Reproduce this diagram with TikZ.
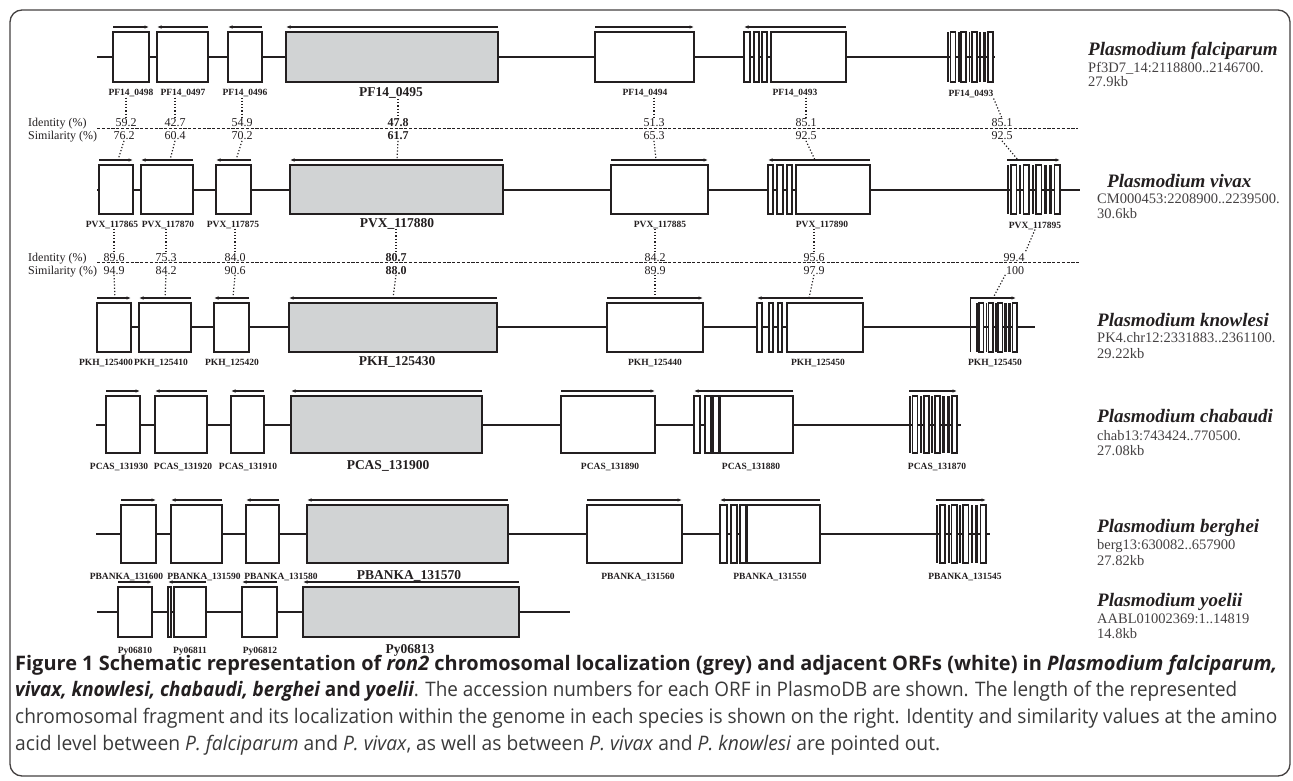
\documentclass[tikz,border=0pt]{standalone}
\usepackage{fontspec}
\usepackage{graphicx}
\setmainfont{Liberation Serif}
\newfontfamily\capfont{Open Sans}
\usetikzlibrary{arrows.meta,calc}
\definecolor{ink}{HTML}{231F20}
\definecolor{ronfill}{HTML}{D1D3D4}
\definecolor{capink}{HTML}{3A3A3A}
\tikzset{
  frame/.style={draw=ink!85, line width=1.3pt, rounded corners=12pt},
  chrom/.style={draw=ink, line width=2pt},
  orfbox/.style={draw=ink, line width=2.3pt, fill=white, inner sep=0pt, outer sep=0pt},
  ronbox/.style={orfbox, fill=ronfill},
  ghost/.style={inner sep=0pt, outer sep=0pt},
  exo/.style={draw=ink, line width=1.6pt, fill=white},
  exf/.style={fill=ink},
  dirarrow/.style={draw=ink, line width=1.1pt, -{Latex[length=4.5pt,width=3.5pt]}},
  lbl/.style={font=\bfseries\fontsize{9.5}{10}\selectfont, inner sep=0pt, text=ink, anchor=base},
  biglbl/.style={font=\bfseries\fontsize{13.5}{14}\selectfont, inner sep=0pt, text=ink, anchor=base},
  val/.style={font=\fontsize{12}{12}\selectfont, inner sep=0.5pt, text=ink, anchor=base},
  bval/.style={val, font=\bfseries\fontsize{12}{12}\selectfont},
  rowhead/.style={font=\fontsize{12}{12}\selectfont, inner sep=0pt, text=ink, anchor=base west},
  link/.style={draw=ink, line width=1.2pt, dotted},
  sepline/.style={draw=ink, line width=1.1pt, dash pattern=on 3.2pt off 1.6pt},
  species/.style={font=\bfseries\itshape\fontsize{19}{20}\selectfont, inner sep=0pt, text=ink, anchor=base west},
  locus/.style={font=\fontsize{14.5}{15}\selectfont, inner sep=0pt, text=ink!85, anchor=base west},
  capline/.style={font=\capfont\fontsize{20}{22}\selectfont, inner sep=0pt, text=capink, anchor=base west},
}
% #1 style, #2 name, #3 x1, #4 x2, #5 top, #6 bottom
\newcommand\orf[6][orfbox]{\node[#1, minimum width={(#4-#3)*1pt}, minimum height={(#6-#5)*1pt}] (#2) at ({(#3+#4)/2},{(#5+#6)/2}) {};}
\newcommand\ex[4]{\path[exo] (#1,#3) rectangle (#2,#4);}
\newcommand\multiex[4]{\foreach \pa/\pb/\ps in {0/1.8/exf,3.5/8.5/exo,11/12.8/exf,14.5/19.5/exo,22/23.8/exf,25.5/30.5/exo,32.5/35.2/exf,37/39.8/exf,42/47/exo}{\pgfmathsetmacro\xa{#1+\pa*#2/47}\pgfmathsetmacro\xb{#1+\pb*#2/47}\path[\ps] (\xa,#3) rectangle (\xb,#4);}}
\newcommand\rdir[1]{\draw[dirarrow] ([yshift=5pt]#1.north west) -- ([yshift=5pt]#1.north east);}
\newcommand\ldir[1]{\draw[dirarrow] ([yshift=5pt]#1.north east) -- ([yshift=5pt]#1.north west);}
\begin{document}
\begin{tikzpicture}[x=1pt,y=-1pt]
\useasboundingbox (0,0) rectangle (1293,781);
\fill[white] (0,0) rectangle (1293,781);
\draw[frame] (10,10) rectangle (1290,776);

% ---------------- Row 1: falciparum
\coordinate (f0) at (97,57); \coordinate (fE) at (995,57);
\draw[chrom] (f0) -- (fE);
\orf{f1}{113}{149}{32}{82}
\orf{f2}{157}{208}{32}{82}
\orf{f3}{228}{262}{32}{82}
\orf[ronbox]{f4}{286}{498}{32}{82}
\orf{f5}{595}{694}{32}{82}
\ex{744}{750}{32}{82}\ex{754}{759}{32}{82}\ex{762}{767}{32}{82}
\orf{f6b}{771}{846}{32}{82}
\orf[ghost]{f6}{744}{846}{32}{82}
\orf[ghost]{f7}{947}{993}{32}{82}
\multiex{947}{46}{32}{82}
\rdir{f1}\ldir{f2}\ldir{f3}\ldir{f4}\rdir{f5}\ldir{f6}
\node[lbl] (f1lab) at (131,96) {PF14\_0498};
\node[lbl] (f2lab) at (183,96) {PF14\_0497};
\node[lbl] (f3lab) at (245,96) {PF14\_0496};
\node[biglbl] (f4lab) at (391,97) {PF14\_0495};
\node[lbl] (f5lab) at (645,96) {PF14\_0494};
\node[lbl] (f6lab) at (795,96) {PF14\_0493};
\node[lbl] (f7lab) at (971,97) {PF14\_0493};

% identity / similarity falciparum-vivax
\node[rowhead] (id1) at (28,127) {Identity (\%)};
\node[rowhead] (si1) at (28,140) {Similarity (\%)};
\coordinate (d1a) at (97,128.5); \coordinate (d1b) at (1078,128.5);
\draw[sepline] (d1a) -- (d1b);
\node[val] (f1i) at (126,127) {59.2}; \node[val] (f1s) at (124,140) {76.2};
\node[val] (f2i) at (175,127) {42.7}; \node[val] (f2s) at (175,140) {60.4};
\node[val] (f3i) at (242,127) {54.9}; \node[val] (f3s) at (242,140) {70.2};
\node[bval] (f4i) at (398,127) {47.8}; \node[bval] (f4s) at (398,140) {61.7};
\node[val] (f5i) at (654,127) {51.3}; \node[val] (f5s) at (654,140) {65.3};
\node[val] (f6i) at (806,127) {85.1}; \node[val] (f6s) at (806,140) {92.5};
\node[val] (f7i) at (1002,127) {85.1}; \node[val] (f7s) at (1002,140) {92.5};

% ---------------- Row 2: vivax
\coordinate (v0) at (97,190); \coordinate (vE) at (1080,190);
\draw[chrom] (v0) -- (vE);
\orf{v1}{99}{133}{165}{214}
\orf{v2}{141}{193}{165}{214}
\orf{v3}{216}{251}{165}{214}
\orf[ronbox]{v4}{290}{503}{165}{214}
\orf{v5}{611}{708}{165}{214}
\ex{768}{773}{165}{214}\ex{777}{783}{165}{214}\ex{787}{792}{165}{214}
\orf{v6b}{796}{870}{165}{214}
\orf[ghost]{v6}{768}{870}{165}{214}
\orf[ghost]{v7}{1007}{1060}{165}{214}
\multiex{1007}{53}{165}{214}
\rdir{v1}\ldir{v2}\ldir{v3}\ldir{v4}\rdir{v5}\ldir{v6}\rdir{v7}
\coordinate (v1t) at (118,160); \coordinate (v2t) at (170,160);
\coordinate (v3t) at (236,160); \coordinate (v4t) at (397,160);
\coordinate (v5t) at (656,160); \coordinate (v6t) at (815,160);
\coordinate (v7t) at (1018,160);
\node[lbl] (v1lab) at (112,227) {PVX\_117865};
\node[lbl] (v2lab) at (168,227) {PVX\_117870};
\node[lbl] (v3lab) at (233,227) {PVX\_117875};
\node[biglbl] (v4lab) at (397,227) {PVX\_117880};
\node[lbl] (v5lab) at (660,227) {PVX\_117885};
\node[lbl] (v6lab) at (822,227) {PVX\_117890};
\node[lbl] (v7lab) at (1035,228) {PVX\_117895};

% identity / similarity vivax-knowlesi
\node[rowhead] (id2) at (28,261) {Identity (\%)};
\node[rowhead] (si2) at (28,274) {Similarity (\%)};
\coordinate (d2a) at (97,262.5); \coordinate (d2b) at (1080,262.5);
\draw[sepline] (d2a) -- (d2b);
\node[val] (v1i) at (114,261) {89.6}; \node[val] (v1s) at (114,274) {94.9};
\node[val] (v2i) at (166,261) {75.3}; \node[val] (v2s) at (166,274) {84.2};
\node[val] (v3i) at (235,261) {84.0}; \node[val] (v3s) at (235,274) {90.6};
\node[bval] (v4i) at (396,261) {80.7}; \node[bval] (v4s) at (396,274) {88.0};
\node[val] (v5i) at (655,261) {84.2}; \node[val] (v5s) at (655,274) {89.9};
\node[val] (v6i) at (814,261) {95.6}; \node[val] (v6s) at (814,274) {97.9};
\node[val] (v7i) at (1014,261) {99.4}; \node[val] (v7s) at (1015,274) {100};

% ---------------- Row 3: knowlesi
\coordinate (k0) at (97,327); \coordinate (kE) at (1035,327);
\draw[chrom] (k0) -- (kE);
\orf{k1}{97}{131}{303}{352}
\orf{k2}{139}{191}{303}{352}
\orf{k3}{214}{249}{303}{352}
\orf[ronbox]{k4}{289}{497}{303}{352}
\orf{k5}{607}{703}{303}{352}
\ex{757}{762}{303}{352}\ex{769}{773}{303}{352}\ex{778}{782}{303}{352}
\orf{k6b}{787}{863}{303}{352}
\orf[ghost]{k6}{757}{863}{303}{352}
\orf[ghost]{k7}{970}{1016}{303}{352}
\multiex{976}{41}{303}{352}
\draw[draw=ink, line width=0.6pt] ([yshift=5pt]k7.north west) -- (k7.south west);
\rdir{k1}\ldir{k2}\ldir{k3}\ldir{k4}\rdir{k5}\ldir{k6}\rdir{k7}
\coordinate (k1t) at (115,298); \coordinate (k2t) at (165,298);
\coordinate (k3t) at (233,298); \coordinate (k4t) at (393,298);
\coordinate (k5t) at (655,298); \coordinate (k6t) at (809,298);
\coordinate (k7t) at (993,298);
\node[lbl] (k1lab) at (106,365) {PKH\_125400};
\node[lbl] (k2lab) at (161,365) {PKH\_125410};
\node[lbl] (k3lab) at (232,365) {PKH\_125420};
\node[biglbl] (k4lab) at (397,365) {PKH\_125430};
\node[lbl] (k5lab) at (655,365) {PKH\_125440};
\node[lbl] (k6lab) at (818,365) {PKH\_125450};
\node[lbl] (k7lab) at (995,365) {PKH\_125450};

% ---------------- Row 4: chabaudi
\coordinate (c0) at (96,425); \coordinate (cE) at (961,425);
\draw[chrom] (c0) -- (cE);
\orf{c1}{106}{140}{396}{453}
\orf{c2}{155}{207}{396}{453}
\orf{c3}{231}{264}{396}{453}
\orf[ronbox]{c4}{291}{482}{396}{453}
\orf{c5}{561}{655}{396}{453}
\ex{694}{700}{396}{453}\ex{705}{711}{396}{453}\ex{713}{719}{396}{453}
\orf{c6b}{720}{793}{396}{453}
\orf[ghost]{c6}{694}{793}{396}{453}
\orf[ghost]{c7}{909}{957}{396}{453}
\multiex{909}{48}{396}{453}
\rdir{c1}\ldir{c2}\ldir{c3}\ldir{c4}\rdir{c5}\ldir{c6}\rdir{c7}
\node[lbl] (c1lab) at (119,469) {PCAS\_131930};
\node[lbl] (c2lab) at (183,469) {PCAS\_131920};
\node[lbl] (c3lab) at (248,469) {PCAS\_131910};
\node[biglbl] (c4lab) at (388,469) {PCAS\_131900};
\node[lbl] (c5lab) at (610,469) {PCAS\_131890};
\node[lbl] (c6lab) at (751,469) {PCAS\_131880};
\node[lbl] (c7lab) at (937,469) {PCAS\_131870};

% ---------------- Row 5: berghei
\coordinate (b0) at (96,534); \coordinate (bE) at (990,534);
\draw[chrom] (b0) -- (bE);
\orf{b1}{121}{156}{505}{563}
\orf{b2}{171}{222}{505}{563}
\orf{b3}{246}{279}{505}{563}
\orf[ronbox]{b4}{307}{508}{505}{563}
\orf{b5}{587}{682}{505}{563}
\ex{720}{727}{505}{563}\ex{731}{737}{505}{563}\ex{740}{746}{505}{563}
\orf{b6b}{747}{820}{505}{563}
\orf[ghost]{b6}{720}{820}{505}{563}
\orf[ghost]{b7}{936}{986}{505}{563}
\multiex{936}{50}{505}{563}
\rdir{b1}\ldir{b2}\ldir{b3}\ldir{b4}\rdir{b5}\ldir{b6}\rdir{b7}
\node[lbl] (b1lab) at (126.5,579) {PBANKA\_131600};
\node[lbl] (b2lab) at (204,579) {PBANKA\_131590};
\node[lbl] (b3lab) at (281,579) {PBANKA\_131580};
\node[biglbl] (b4lab) at (409,579) {PBANKA\_131570};
\node[lbl] (b5lab) at (638,579) {PBANKA\_131560};
\node[lbl] (b6lab) at (770,579) {PBANKA\_131550};
\node[lbl] (b7lab) at (965,579) {PBANKA\_131545};

% ---------------- Row 6: yoelii
\coordinate (y0) at (97,612); \coordinate (yE) at (570,612);
\draw[chrom] (y0) -- (yE);
\orf{y1}{118}{152}{587}{637}
\ex{168}{171}{587}{637}
\orf{y2b}{174}{206}{587}{637}
\orf[ghost]{y2}{168}{206}{587}{637}
\orf{y3}{242}{277}{587}{637}
\orf[ronbox]{y4}{303}{519}{587}{637}
\rdir{y1}\ldir{y2}\ldir{y3}\ldir{y4}
\node[lbl] (y1lab) at (135,653) {Py06810};
\node[lbl] (y2lab) at (190,653) {Py06811};
\node[lbl] (y3lab) at (260,653) {Py06812};
\node[biglbl] (y4lab) at (410,653) {Py06813};

% ---------------- dotted links
\foreach \g in {f1,f2,f3,f4,f5,f6}{\draw[link] (\g i.north |- \g lab.south) -- (\g i.north);}
\draw[link] (f7lab.south east) -- (f7i.north);
\draw[link] (f1s.south) -- (v1t);
\draw[link] (f2s.south) -- (v2t);
\draw[link] (f3s.south) -- (v3t);
\draw[link] (f4s.south) -- (v4t);
\draw[link] (f5s.south) -- (v5t);
\draw[link] (f6s.south) -- (v6t);
\draw[link] (f7s.south) -- (v7t);
\foreach \g in {v1,v2,v3,v4,v5,v6}{\draw[link] (\g i.north |- \g lab.south) -- (\g i.north);}
\draw[link] (v7lab.south) -- (v7i.north east);
\draw[link] (v1s.south) -- (k1t);
\draw[link] (v2s.south) -- (k2t);
\draw[link] (v3s.south) -- (k3t);
\draw[link] (v4s.south) -- (k4t);
\draw[link] (v5s.south) -- (k5t);
\draw[link] (v6s.south) -- (k6t);
\draw[link] (v7s.south west) -- (k7t);

% ---------------- species
\node[species] (sp1) at (1088,56) {Plasmodium falciparum};
\node[locus] (lo1) at (1088,73) {Pf3D7\_14:2118800..2146700.};
\node[locus] (kb1) at (1088,87) {27.9kb};
\node[species] (sp2) at (1107,187) {Plasmodium vivax};
\node[locus] (lo2) at (1097,203.5) {CM000453:2208900..2239500.};
\node[locus] (kb2) at (1097,218) {30.6kb};
\node[species] (sp3) at (1097,326) {Plasmodium knowlesi};
\node[locus] (lo3) at (1097,342) {PK4.chr12:2331883..2361100.};
\node[locus] (kb3) at (1097,358) {29.22kb};
\node[species] (sp4) at (1097,422) {Plasmodium chabaudi};
\node[locus] (lo4) at (1097,440) {chab13:743424..770500.};
\node[locus] (kb4) at (1097,455) {27.08kb};
\node[species] (sp5) at (1097,532) {Plasmodium berghei};
\node[locus] (lo5) at (1097,549) {berg13:630082..657900};
\node[locus] (kb5) at (1097,565) {27.82kb};
\node[species] (sp6) at (1097,606) {Plasmodium yoelii};
\node[locus] (lo6) at (1097,623) {AABL01002369:1..14819};
\node[locus] (kb6) at (1097,638) {14.8kb};

% ---------------- caption
\node[capline, text=ink] (cap1) at (15,670) {\resizebox{1262pt}{\height}{\bfseries Figure 1 Schematic representation of \textit{ron2} chromosomal localization (grey) and adjacent ORFs (white) in \textit{Plasmodium falciparum,}}};
\node[capline] (cap2) at (15,696) {\resizebox{1222pt}{\height}{\textcolor{ink}{\bfseries\itshape vivax, knowlesi, chabaudi, berghei \upshape and \itshape yoelii}. The accession numbers for each ORF in PlasmoDB are shown. The length of the represented}};
\node[capline] (cap3) at (15,723) {\resizebox{1262pt}{\height}{chromosomal fragment and its localization within the genome in each species is shown on the right. Identity and similarity values at the amino}};
\node[capline] (cap4) at (15,750) {\resizebox{925pt}{\height}{acid level between \textit{P. falciparum} and \textit{P. vivax}, as well as between \textit{P. vivax} and \textit{P. knowlesi} are pointed out.}};
\end{tikzpicture}
\end{document}
